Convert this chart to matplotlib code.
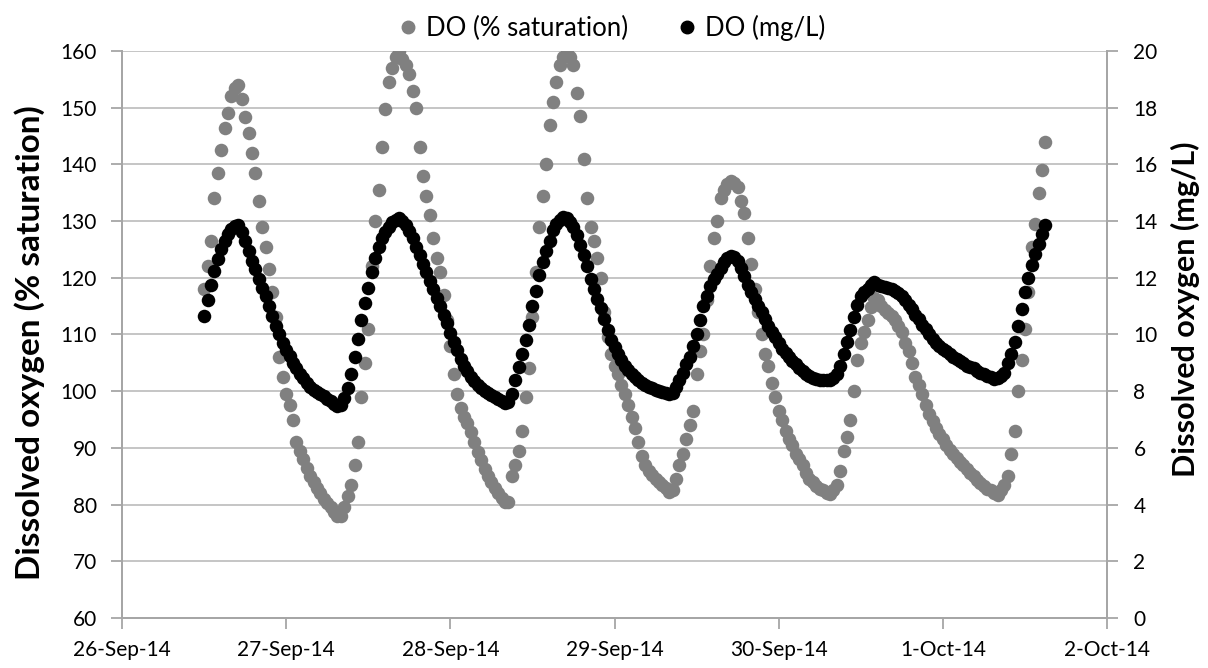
import numpy as np
import pandas as pd
import matplotlib
matplotlib.use("Agg")
import matplotlib.pyplot as plt
import matplotlib.dates as mdates
from matplotlib.lines import Line2D

plt.rcParams['font.family'] = ['Lato', 'DejaVu Sans']

# half-hourly readings starting 26-Sep-14 12:00
start = "2014-09-26 12:00"
do_sat = [
    118, 122, 126.5, 134, 138.5, 142.5, 146.5, 149, 152, 153.5, 154, 151.5,
    148.4, 145.5, 142, 138.5, 133.5, 129, 125.4, 121.5, 117.5, 113, 106, 102.5,
    99.5, 97.5, 95, 91, 89.5, 88, 86.5, 85, 84, 83, 82, 81,
    80.3, 79.5, 78.7, 78, 78, 79.5, 81.5, 83.5, 87, 91, 99, 105,
    111, 122, 130, 135.5, 143, 149.7, 154.5, 157, 159, 160, 158.5, 157.5,
    156, 153, 150, 143, 138, 134.5, 131, 127, 123.5, 121, 117, 112.5,
    108, 103, 99.5, 97, 95.5, 94.3, 92.8, 91, 89.3, 87.8, 86.3, 85,
    84, 83, 82, 81.2, 80.5, 80.5, 85, 87, 89.5, 93, 99, 104,
    113, 121, 129, 134.5, 140, 147, 151, 154.5, 157.5, 159, 159.7, 159,
    157.5, 152.5, 148.5, 141, 134, 129, 126.5, 123.5, 120, 114, 109.5, 106.5,
    104.5, 103, 101, 99.5, 97.5, 95.5, 93.5, 91, 88.5, 87, 86, 85.2,
    84.5, 84, 83.5, 83, 82.3, 82.5, 84.5, 87, 89, 91.5, 94, 96.5,
    103, 107, 110, 116, 122, 127, 130, 134, 135.5, 136.5, 137, 136.8,
    136, 133.5, 131.5, 127, 122.5, 118, 114, 110, 106.5, 104.5, 101.5, 99,
    96.5, 95, 93, 91.5, 90.5, 89, 88, 87, 85.5, 84.5, 84, 83.3,
    82.8, 82.5, 82, 81.8, 82.5, 83.5, 86, 89.5, 92, 95, 100, 105.5,
    108.5, 110.5, 112.5, 114.8, 116.5, 116, 115, 114.3, 113.8, 113.3, 112.5, 111.5,
    110.5, 108.5, 107, 105, 102.5, 101, 99.5, 97.5, 96, 94.8, 93.5, 92.5,
    91.5, 90.5, 89.7, 89, 88.2, 87.5, 87, 86.3, 85.6, 85, 84.3, 83.8,
    83.3, 82.8, 82.5, 82, 81.7, 82.5, 83.5, 85, 89, 93, 100, 105.5,
    111, 117.5, 125.5, 129.5, 135, 139, 144,
]
do_mgl = [
    10.65, 11.2, 11.75, 12.25, 12.65, 13.0, 13.3, 13.55, 13.72, 13.82, 13.85, 13.6,
    13.3, 12.95, 12.6, 12.3, 11.95, 11.65, 11.35, 11.0, 10.65, 10.3, 10.0, 9.7,
    9.45, 9.25, 9.0, 8.8, 8.6, 8.45, 8.3, 8.15, 8.05, 7.98, 7.9, 7.82,
    7.72, 7.65, 7.55, 7.48, 7.5, 7.75, 8.1, 8.6, 9.2, 9.85, 10.5, 11.1,
    11.65, 12.2, 12.7, 13.1, 13.4, 13.6, 13.8, 13.95, 14.05, 14.1, 14.0, 13.85,
    13.65, 13.4, 13.1, 12.8, 12.5, 12.2, 11.9, 11.6, 11.3, 11.0, 10.7, 10.4,
    10.05, 9.75, 9.45, 9.15, 8.9, 8.7, 8.5, 8.35, 8.22, 8.1, 8.0, 7.92,
    7.85, 7.78, 7.72, 7.65, 7.58, 7.62, 7.9, 8.4, 8.85, 9.3, 9.8, 10.35,
    11.0, 11.55, 12.1, 12.55, 12.95, 13.3, 13.7, 13.9, 14.05, 14.15, 14.1, 13.95,
    13.8, 13.5, 13.15, 12.8, 12.4, 11.95, 11.6, 11.25, 10.95, 10.55, 10.15, 9.8,
    9.55, 9.3, 9.1, 8.9, 8.75, 8.6, 8.5, 8.4, 8.3, 8.22, 8.15, 8.1,
    8.05, 8.0, 7.97, 7.93, 7.9, 7.95, 8.15, 8.4, 8.65, 8.95, 9.2, 9.6,
    10.0, 10.5, 11.0, 11.35, 11.7, 11.95, 12.15, 12.35, 12.55, 12.7, 12.78, 12.75,
    12.6, 12.35, 12.05, 11.75, 11.5, 11.25, 11.0, 10.8, 10.55, 10.3, 10.1, 9.9,
    9.7, 9.5, 9.35, 9.2, 9.05, 8.95, 8.8, 8.7, 8.6, 8.52, 8.45, 8.42,
    8.4, 8.4, 8.4, 8.4, 8.45, 8.6, 8.9, 9.3, 9.75, 10.15, 10.6, 11.05,
    11.35, 11.5, 11.6, 11.75, 11.85, 11.75, 11.7, 11.68, 11.65, 11.6, 11.55, 11.45,
    11.35, 11.2, 11.05, 10.9, 10.7, 10.55, 10.35, 10.2, 10.0, 9.85, 9.7, 9.6,
    9.5, 9.4, 9.3, 9.2, 9.12, 9.05, 8.98, 8.9, 8.85, 8.8, 8.72, 8.65,
    8.6, 8.55, 8.5, 8.42, 8.45, 8.55, 8.65, 9.0, 9.3, 9.75, 10.3, 10.9,
    11.5, 12.0, 12.45, 12.85, 13.2, 13.55, 13.85,
]
times = pd.date_range(start, periods=len(do_sat), freq="30min")

gray = "#808080"
axis_col = "#a6a6a6"
grid_col = "#c0c0c0"

fig = plt.figure(figsize=(12.08, 6.68), dpi=100)
ax = fig.add_axes([0.101, 0.0749, 0.8154, 0.8488])
ax.scatter(times, do_sat, s=95, color=gray, linewidths=0, zorder=3)
ax.set_ylim(60, 160)
ax.set_yticks(np.arange(60, 161, 10))
ax.set_xlim(pd.Timestamp("2014-09-26"), pd.Timestamp("2014-10-02"))
ax.xaxis.set_major_locator(mdates.DayLocator())
ax.xaxis.set_major_formatter(mdates.DateFormatter("%-d-%b-%y"))
ax.set_axisbelow(True)
ax.yaxis.grid(True, color=grid_col, lw=1.3)
ax.set_ylabel("Dissolved oxygen (% saturation)", fontsize=24, fontweight="bold")
ax.yaxis.set_label_coords(-0.078, 0.485)

ax2 = ax.twinx()
ax2.scatter(times, do_mgl, s=95, color="black", linewidths=0, zorder=3)
ax2.set_ylim(0, 20)
ax2.set_yticks(np.arange(0, 21, 2))
ax2.set_ylabel("Dissolved oxygen (mg/L)", fontsize=22, fontweight="bold")
ax2.yaxis.set_label_coords(1.065, 0.545)

for a in (ax, ax2):
    a.spines["top"].set_visible(False)
    for s in ("left", "right", "bottom"):
        a.spines[s].set_color(axis_col)
        a.spines[s].set_linewidth(1.3)
    a.tick_params(axis="both", direction="out", length=8, width=1.3,
                  color=axis_col, labelsize=15, labelcolor="black")
ax.tick_params(axis="y", pad=10)
ax.tick_params(axis="x", pad=8)
ax2.tick_params(axis="y", pad=11)

handles = [
    Line2D([], [], marker="o", ls="none", color=gray, markersize=9),
    Line2D([], [], marker="o", ls="none", color="black", markersize=9),
]
fig.legend(handles, ["DO (% saturation)", "DO (mg/L)"], loc="upper center",
           bbox_to_anchor=(0.505, 1.012), ncol=2, frameon=False, fontsize=18.5,
           handletextpad=0.2, columnspacing=1.8, handlelength=1.0)

fig.savefig("out.png", dpi=100)
